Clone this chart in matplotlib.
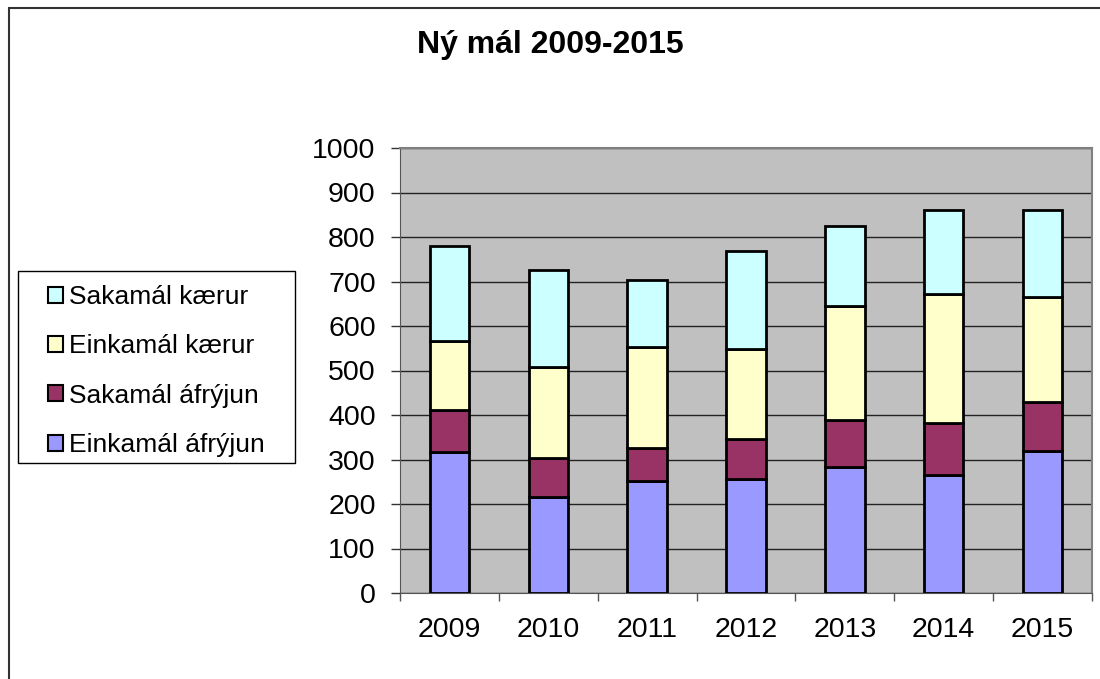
import numpy as np
import matplotlib.pyplot as plt
from matplotlib.patches import Rectangle

plt.rcParams['font.family'] = ['Liberation Sans', 'DejaVu Sans']

years = ['2009', '2010', '2011', '2012', '2013', '2014', '2015']
einkamal_afryjun = [316, 215, 252, 256, 284, 265, 320]
sakamal_afryjun = [96, 89, 74, 90, 105, 116, 110]
einkamal_kaerur = [154, 204, 226, 202, 255, 292, 236]
sakamal_kaerur = [214, 218, 151, 221, 181, 188, 195]

series = [
    ('Einkamál áfrýjun', einkamal_afryjun, '#9999FF'),
    ('Sakamál áfrýjun', sakamal_afryjun, '#993366'),
    ('Einkamál kærur', einkamal_kaerur, '#FFFFCC'),
    ('Sakamál kærur', sakamal_kaerur, '#CCFFFF'),
]

fig = plt.figure(figsize=(11, 6.79), dpi=100)
ax = fig.add_axes([400/1100, 1-593/679, 692/1100, 445/679])
ax.set_facecolor('#C0C0C0')

x = np.arange(len(years))
bottom = np.zeros(len(years))
handles = []
for name, vals, col in series:
    b = ax.bar(x, vals, 0.4, bottom=bottom, color=col, edgecolor='black',
               linewidth=2, label=name, zorder=3)
    handles.append(b)
    bottom += np.array(vals)

ax.set_xlim(-0.5, len(years) - 0.5)
ax.set_ylim(0, 1000)
ax.set_yticks(np.arange(0, 1001, 100))
ax.yaxis.grid(True, color='#222222', linewidth=1, zorder=0)
ax.set_axisbelow(True)

ax.set_xticks(x)
ax.set_xticklabels(years)
ax.set_xticks(np.arange(-0.5, len(years)), minor=True)
ax.tick_params(axis='x', which='major', length=0, pad=17, labelsize=20.5)
ax.tick_params(axis='x', which='minor', length=6, width=1, color='#555555')
ax.tick_params(axis='y', length=6.5, width=1, color='#333333', labelsize=20.5, pad=11)

for s in ['top', 'right']:
    ax.spines[s].set_color('#808080')
    ax.spines[s].set_linewidth(1.5)
ax.spines['left'].set_color('#555555')
ax.spines['bottom'].set_color('#555555')

fig.text(550/1100, 1-45/679, 'Ný mál 2009-2015', ha='center', va='center',
         fontsize=23, fontweight='bold')

# legend entries without frame, box drawn separately
leg = fig.legend(handles[::-1], [s[0] for s in series[::-1]],
                 loc='upper left', bbox_to_anchor=(48/1100, 1-285/679),
                 frameon=False, fontsize=19,
                 handlelength=0.55, handleheight=0.55, handletextpad=0.25,
                 labelspacing=0.96, borderpad=0, borderaxespad=0)
for h in leg.legend_handles:
    h.set_linewidth(1.5)

fig.patches.append(Rectangle((18/1100, 1-463/679), 277/1100, 192/679,
                             transform=fig.transFigure, fill=False,
                             edgecolor='black', linewidth=1))

fig.patches.append(Rectangle((9/1100, -0.05), 1.1, 1-8/679+0.05,
                             transform=fig.transFigure, fill=False,
                             edgecolor='#333333', linewidth=1.5))

fig.savefig('out.png', dpi=100)
